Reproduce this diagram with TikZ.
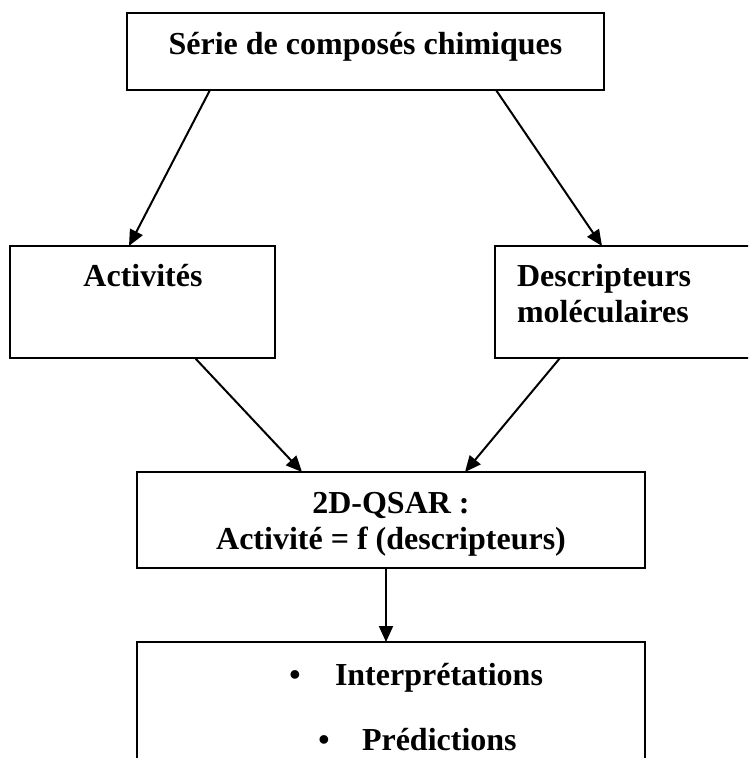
\documentclass[tikz,border=0pt]{standalone}
\usepackage{fontspec}
\setmainfont{Liberation Serif}
\usetikzlibrary{arrows.meta,calc}
\tikzset{
  box/.style={draw=black, line width=1.9pt, rectangle, anchor=north west, inner sep=0pt, outer sep=0pt},
  txt/.style={inner sep=0pt, outer sep=0pt, font=\fontsize{32}{38}\selectfont\bfseries},
  arr/.style={line width=2pt, -{Triangle[length=16pt,width=14pt]}}
}
\begin{document}
\begin{tikzpicture}[x=1pt,y=-1pt]
\useasboundingbox (0,0) rectangle (748,758);
\clip (0,0) rectangle (748,758);
% boxes
\node[box, minimum width=477pt, minimum height=77pt] (serie) at (127,13) {};
\node[box, minimum width=265pt, minimum height=112pt] (act) at (10,246) {};
\node[box, minimum width=262pt, minimum height=112pt] (desc) at (495,246) {};
\node[box, minimum width=508pt, minimum height=96pt] (qsar) at (137,472) {};
\node[box, minimum width=508pt, minimum height=140pt] (res) at (137,642) {};
% texts
\node[txt, anchor=base] (t1) at (365.5,54) {Série de composés chimiques};
\node[txt, anchor=base] (t2) at (143,286) {Activités};
\node[txt, anchor=base west] (t3) at (517,286) {Descripteurs};
\node[txt, anchor=base west] (t4) at (517,322) {moléculaires};
\node[txt, anchor=base] (t5) at (391,513) {2D-QSAR :};
\node[txt, anchor=base] (t6) at (391,549) {Activité = f (descripteurs)};
\node[txt, anchor=base] (b1) at (295,685) {•};
\node[txt, anchor=base west] (t7) at (335,685) {Interprétations};
\node[txt, anchor=base] (b2) at (324,750) {•};
\node[txt, anchor=base west] (t8) at (362,750) {Prédictions};
% connectors
\draw[arr] ($(serie.south west)+(83,0)$) -- ($(act.north west)+(119,0)$);
\draw[arr] ($(serie.south west)+(369,0)$) -- ($(desc.north west)+(107,0)$);
\draw[arr] ($(act.south west)+(185,0)$) -- ($(qsar.north west)+(165,0)$);
\draw[arr] ($(desc.south west)+(65,0)$) -- ($(qsar.north west)+(328,0)$);
\draw[arr] ($(qsar.south west)+(249,0)$) -- ($(res.north west)+(249,0)$);
\end{tikzpicture}
\end{document}
